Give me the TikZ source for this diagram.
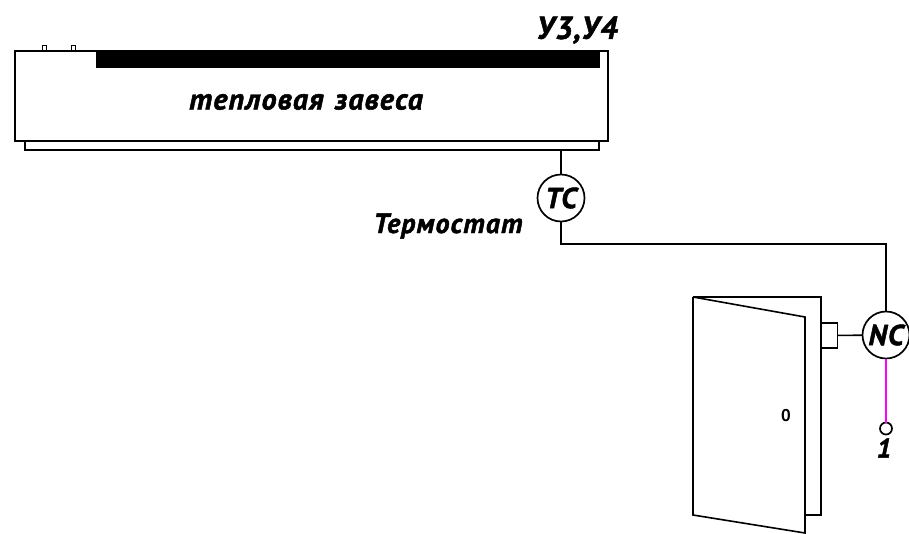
\documentclass[tikz,border=0pt]{standalone}
\usepackage{xcolor}
\usepackage{fontspec}
\setmainfont{PT Sans}
\newfontfamily\cadfont[LetterSpace=4,WordSpace=1.3,FakeBold=1.6]{PT Sans}
\usetikzlibrary{calc}
\definecolor{wirepink}{RGB}{255,0,255}
\tikzset{
  part/.style={draw,line width=1.7pt,inner sep=0pt,outer sep=0pt,fill=white},
  sensor/.style={part,circle,minimum size=47pt},
  lbl/.style={inner sep=0pt,font=\cadfont\bfseries\itshape\fontsize{#1}{#1}\selectfont},
  wire/.style={line width=1.6pt}
}
\begin{document}
\begin{tikzpicture}[x=1pt,y=-1pt]
   \useasboundingbox (0,0) rectangle (909,533);
   % heater
   \node[part,minimum width=4pt,minimum height=6pt] (knobA) at (44.5,48.5) {};
   \node[part,minimum width=4pt,minimum height=6pt] (knobB) at (73.5,48.5) {};
   \node[part,minimum width=574pt,minimum height=9pt] (lowbar) at (312,145.5) {};
   \node[part,minimum width=593pt,minimum height=90pt] (body) at (311.5,96) {};
   \node[fill=black,inner sep=0pt,minimum width=504pt,minimum height=17pt] (slot) at (348,59.5) {};
   \node[lbl=30] (name) at (306,102) {тепловая завеса};
   \node[lbl=32] (mark) at (577,30) {У3,У4};
   % sensors
   \node[sensor] (TC) at (561,198) {\cadfont\bfseries\itshape\fontsize{29}{29}\selectfont TC};
   \node[sensor] (NC) at (886,335) {\cadfont\bfseries\itshape\fontsize{29}{29}\selectfont NC};
   \node[lbl=28] (term) at (448,226) {Термостат};
   \coordinate (bend) at (886,244);
   \draw[wire] (TC |- lowbar.south) -- (TC);
   \draw[wire] (TC.south) |- (bend) -- (NC.north);
   % door
   \coordinate (hingeT) at (693,297);
   \coordinate (hingeB) at (693,515);
   \coordinate (leafT) at (805,317);
   \coordinate (leafB) at (805,533);
   \draw[wire] (leafB |- hingeB) -- (821,515) -- (821,297) -- (hingeT) -- (leafT) -- (leafB) -- (hingeB) -- (hingeT);
   \node[part,minimum width=16pt,minimum height=25pt] (contact) at (829.5,335.5) {};
   \draw[wire] (contact) -- (NC);
   \node[inner sep=0pt,font=\bfseries\fontsize{17}{17}\selectfont] (handle) at (786,416) {0};
   % output
   \node[part,circle,minimum size=12pt] (term1) at (886,428.5) {};
   \node[lbl=27] (one) at (884,448) {1};
   \draw[wire,wirepink] (NC) -- (term1);
\end{tikzpicture}
\end{document}
